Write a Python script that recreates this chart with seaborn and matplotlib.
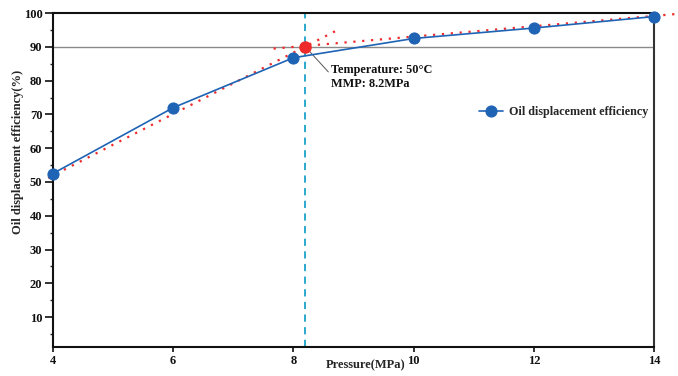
import matplotlib
matplotlib.use("Agg")
import matplotlib.pyplot as plt
from matplotlib.ticker import MultipleLocator
import pandas as pd
import seaborn as sns

# Measured oil displacement efficiency vs. injection pressure
pressure = [4, 6, 8, 10, 12, 14]
efficiency = [52.5, 72.0, 86.8, 92.5, 95.6, 99.0]

# Trend lines through the low- and high-pressure regimes
low_x = [3.92, 8.7]
low_y = [51.2, 94.7]
high_x = [7.67, 14.4]
high_y = [89.5, 99.8]

mmp_x = 8.2
mmp_y = 90.0

sns.set_theme(style="white")
plt.rcParams["font.family"] = ["Liberation Serif", "DejaVu Serif"]
plt.rcParams["font.weight"] = "bold"

fig = plt.figure(figsize=(6.78, 3.76), dpi=100)
ax = fig.add_axes([0.078, 0.076, 0.887, 0.889])

blue = "#1f63b5"
red = "#ee2a2a"

df = pd.DataFrame({"Pressure": pressure, "Efficiency": efficiency})

ax.axhline(mmp_y, color="#8a8a8a", lw=1.0, zorder=1)
ax.axvline(mmp_x, color="#1aa3c8", lw=1.3, ls=(0, (4, 3)), zorder=1)

ax.plot(low_x, low_y, color=red, lw=1.6, ls=(0, (1, 3)), zorder=2, clip_on=False)
ax.plot(high_x, high_y, color=red, lw=1.6, ls=(0, (1, 3)), zorder=2, clip_on=False)

sns.lineplot(data=df, x="Pressure", y="Efficiency", ax=ax, color=blue,
             marker="o", markersize=8, markeredgecolor=blue, lw=1.2,
             label="Oil displacement efficiency", zorder=3, clip_on=False)

ax.plot([mmp_x], [mmp_y], "o", color=red, markersize=8, zorder=4)

# leader line from the MMP point to its note
ax.plot([mmp_x, 8.58], [mmp_y, 82.6], color="#555555", lw=0.7, zorder=2)
ax.text(8.62, 85.0, "Temperature: 50°C\nMMP: 8.2MPa", fontsize=8.8,
        fontweight="bold", color="#111111", linespacing=1.2,
        ha="left", va="top")

ax.set_xlim(4, 14)
ax.set_ylim(1, 100)
ax.set_xticks([4, 6, 8, 10, 12, 14])
ax.yaxis.set_major_locator(MultipleLocator(10))
ax.yaxis.set_minor_locator(MultipleLocator(5))
ax.set_yticks([10, 20, 30, 40, 50, 60, 70, 80, 90, 100])

ax.tick_params(axis="both", which="major", direction="out",
               width=1.2, labelsize=9, colors="#111111", pad=2)
ax.tick_params(axis="y", which="major", length=5.5, left=True)
ax.tick_params(axis="x", which="major", length=3.5, bottom=True)
ax.tick_params(axis="y", which="minor", direction="out", length=2.5,
               width=1.0, left=True)
for lab in ax.get_xticklabels() + ax.get_yticklabels():
    lab.set_fontweight("bold")

for side in ["left", "bottom", "top"]:
    ax.spines[side].set_color("#111111")
    ax.spines[side].set_linewidth(1.5)
ax.spines["right"].set_color("#333333")
ax.spines["right"].set_linewidth(1.5)

ax.set_xlabel("Pressure(MPa)", fontsize=9, fontweight="bold", labelpad=1)
ax.xaxis.set_label_coords(0.52, -0.035)
ax.set_ylabel("Oil displacement efficiency(%)", fontsize=9, fontweight="bold")
ax.yaxis.set_label_coords(-0.048, 0.585)

leg = ax.legend(loc="center left", bbox_to_anchor=(0.69, 0.705), frameon=False,
                prop={"size": 8.7, "weight": "bold"}, handlelength=2.0,
                handletextpad=0.5)

fig.savefig("out.png", dpi=100)
